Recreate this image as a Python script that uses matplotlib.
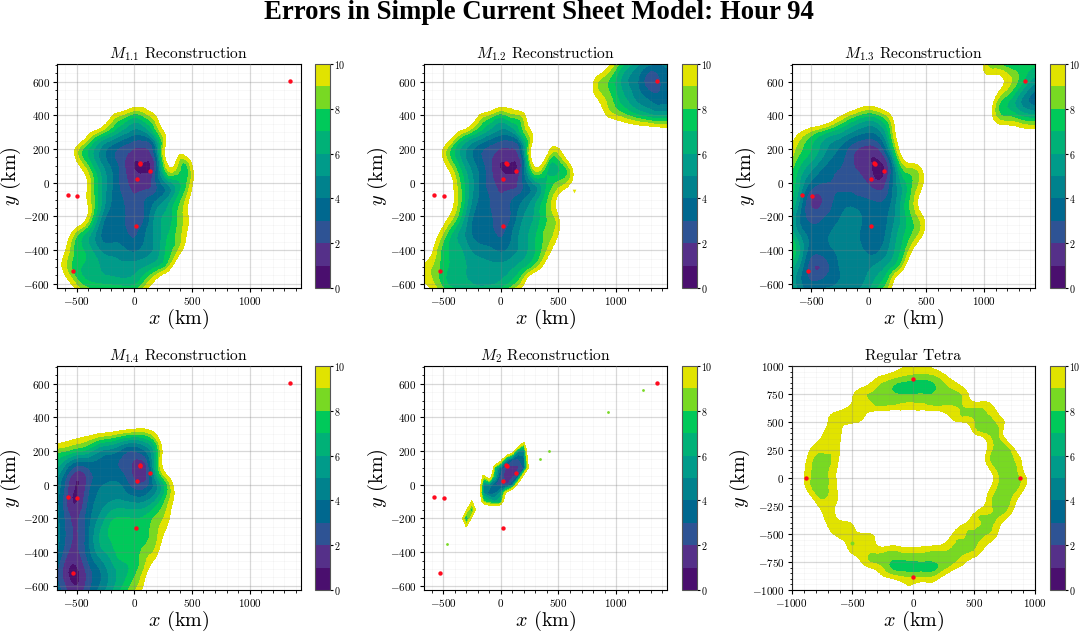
import matplotlib

matplotlib.use("Agg")
import matplotlib.pyplot as plt
import matplotlib.tri as mtri
import numpy as np
from matplotlib.colors import ListedColormap
from matplotlib.ticker import MultipleLocator

plt.rcParams["font.family"] = ["cmr10", "DejaVu Sans"]
plt.rcParams["mathtext.fontset"] = "cm"
plt.rcParams["axes.formatter.use_mathtext"] = True

TITLE = "Errors in Simple Current Sheet Model: Hour 94"
LEVELS = list(range(0, 11))
LAYER_COLORS = ["#4a0f6e", "#553089", "#2e5394", "#00688f", "#00828d",
                "#009b8a", "#00b177", "#00c95a", "#78d923", "#e1e300"]

# spacecraft positions (km)
SC_X = [1350, 50, 46, 135, 20, 15, -575, -495, -530]
SC_Y = [605, 112, 120, 70, 25, -255, -70, -77, -525]
TETRA_X = [0, 0, 880, -880]
TETRA_Y = [880, -880, 0, 0]

# error fields: rows run y = 700 ... -700, columns x = -700, -600, ...; short rows stay above 10
GRID_X = list(range(-700, 1501, 100))
GRID_Y = list(range(700, -701, -100))

M11 = [
    [],
    [],
    [20, 20, 20, 20, 20, 20, 16, 12.5, 12.5, 16],
    [20, 20, 20, 20, 16, 10.4, 8.8, 7.5, 8.5, 10.6, 16],
    [20, 20, 20, 11, 8.8, 7, 5.5, 4.5, 5, 8, 11.5, 16],
    [20, 13, 9.5, 7, 5, 3.5, 2.6, 1.9, 1.9, 5, 12, 11, 17],
    [20, 15, 11, 8, 5.5, 3.8, 2.3, 0.9, 0.8, 3.5, 10.3, 8, 9.8, 14],
    [20, 17, 13, 9.8, 6.5, 4.2, 2.5, 1.5, 1.4, 3.2, 5.5, 7, 9.6, 14],
    [20, 16, 12.5, 9.7, 6.5, 4, 3, 2.2, 3, 4, 5.5, 7.8, 11, 16],
    [20, 16, 13, 9.8, 5.5, 3.5, 3.1, 2.5, 3.2, 5.5, 6.5, 8.5, 11, 16],
    [16, 12, 8.5, 6.5, 4.2, 3.5, 3.4, 2.8, 4, 5.5, 7, 8.7, 11.5, 16],
    [13, 10.2, 7.6, 6.5, 5, 4.5, 4.2, 3.8, 4.5, 5.5, 7.5, 9.5, 13],
    [12, 9.3, 7.3, 6.7, 6, 5.5, 5.3, 5.5, 6, 7, 9, 13],
    [16, 11.5, 8.8, 7.3, 7, 6.8, 6.6, 6.8, 8.7, 11.5, 15],
    [20, 18, 13, 11, 10.5, 10.5, 10.5, 10.5, 12, 16],
]

M12 = [
    [20, 20, 20, 20, 20, 20, 20, 20, 20, 20, 20, 20, 20, 20, 20, 16, 11.5, 8.5, 6.5, 5, 4, 4, 4.5],
    [20, 20, 20, 20, 20, 20, 20, 20, 20, 20, 20, 20, 20, 20, 16, 10.3, 8.3, 6.8, 5, 3.8, 2.2, 3.2, 3.8],
    [20, 20, 20, 20, 20, 20, 16, 12.5, 12.5, 16, 20, 20, 20, 20, 20, 11, 9, 7.3, 5.8, 4.5, 3.7, 3.5, 4],
    [20, 20, 20, 20, 16, 10.4, 8.8, 7.5, 8.5, 9.6, 14, 20, 20, 20, 20, 14, 10.5, 9, 8, 7, 6.2, 6, 6],
    [20, 20, 20, 11, 8.8, 7, 5.5, 4.5, 5, 8, 11, 20, 20, 20, 20, 20, 16, 13, 12.5, 12.2, 12, 11.7, 11.7],
    [20, 13, 10, 7, 5, 3.5, 2.6, 1.9, 1.9, 5, 13, 11.5, 9.8, 14],
    [20, 15, 11, 8, 5.5, 3.8, 2.3, 0.9, 0.8, 3.5, 10.5, 7.5, 7, 9.6, 16],
    [20, 17, 13, 9.6, 6.5, 4.2, 2.5, 1.5, 1.4, 3.2, 5.5, 7, 8.2, 9.7, 16],
    [20, 16, 12.5, 9.9, 6.5, 4, 3, 2.2, 3, 4, 5.5, 7.8, 10.8, 16],
    [20, 16, 11.5, 8.8, 5.5, 3.5, 3.1, 2.5, 3.2, 5, 6.2, 8, 10, 14],
    [16, 12, 9, 6.5, 4.8, 3.5, 3.4, 2.8, 4, 5.5, 6.8, 8.3, 10, 14],
    [13, 10.5, 7.6, 6.6, 5.5, 4.5, 4.2, 3.8, 4.5, 5.5, 7, 9, 12],
    [10, 9, 7.5, 6.6, 6, 5.5, 5.3, 5.3, 5.8, 6.8, 8.5, 11.5],
    [10.5, 9.4, 7.6, 6.5, 6.3, 5.8, 5.8, 6.3, 7.5, 10, 15],
    [12, 11, 10, 9.5, 9, 9, 9.5, 10, 12, 16],
]

M13 = [
    [20, 20, 20, 20, 20, 20, 20, 20, 20, 20, 20, 20, 20, 20, 20, 20, 20, 9.6, 8.5, 7.5, 7.2, 7.2, 7.2],
    [20, 20, 20, 20, 20, 20, 20, 20, 20, 20, 20, 20, 20, 20, 20, 20, 20, 11.5, 11, 9.6, 7.8, 5.8, 5],
    [20, 20, 20, 20, 20, 16, 13, 12.2, 13, 17, 20, 20, 20, 20, 20, 20, 20, 14, 9.8, 7.5, 5.5, 3.8, 3.2],
    [20, 20, 16, 13.5, 11.5, 9.5, 8, 7.2, 8, 10.4, 15, 20, 20, 20, 20, 20, 20, 13, 9, 7.8, 7, 6.2, 6],
    [12.5, 10.2, 8.7, 7.5, 6.5, 5.5, 4.5, 4, 4.8, 8.5, 13, 18, 20, 20, 20, 20, 20, 16, 12.5, 12, 11.5, 11, 11],
    [10.5, 8.3, 7, 5.5, 4.3, 3.2, 2, 1.5, 2.2, 6.5, 12, 14, 18],
    [9, 7, 5.5, 4.2, 3.3, 2.7, 1.8, 1.2, 0.7, 3.5, 8.7, 9.5, 12, 18],
    [8.5, 6, 3.8, 3, 2.9, 2.7, 2.5, 1.8, 1.2, 3.6, 6.5, 8.3, 11, 16],
    [8, 5, 1.9, 2, 3, 3.4, 3.2, 3, 2.8, 4, 6.5, 9.2, 12.5, 18],
    [7, 4, 2.6, 2.8, 3.5, 4.4, 4.4, 3.3, 3.3, 4.5, 6.5, 8.5, 11, 16],
    [7.5, 4.8, 3.5, 3.6, 4.2, 4.6, 4.2, 3.2, 3.4, 5, 6.8, 8.3, 11, 16],
    [9, 6, 3.5, 3.5, 4, 4.5, 4.4, 3.7, 4, 5.5, 7.5, 11, 16],
    [7, 4.8, 2.3, 2.2, 3.5, 4.4, 4.6, 4.8, 5.5, 6.8, 9.5, 14],
    [6.5, 4.3, 3.2, 3.5, 3.9, 4.4, 4.7, 5.5, 7, 9.7, 14],
    [7.5, 5.3, 4.2, 4.5, 5, 5.4, 5.7, 6.5, 8, 11, 16],
]

M14 = [
    [],
    [],
    [],
    [20, 20, 20, 20, 20, 18, 16, 13.5, 13.5, 18],
    [12, 11.6, 11, 10.5, 9.8, 9.3, 8.5, 8, 8.3, 10.5, 16],
    [8.5, 8, 7.2, 6.5, 5, 4.5, 3.5, 3, 4, 7.5, 13, 18],
    [6.5, 4.5, 2.5, 3, 3.5, 3.3, 2.7, 1.6, 1.7, 7.5, 12, 18],
    [5.5, 2.8, 0.9, 2.4, 3.8, 4.2, 3.8, 2.4, 2.5, 5, 8.5, 12.5, 18],
    [5, 2.3, 0.9, 3, 4.4, 5, 5.1, 4.8, 5, 6.5, 9, 12, 18],
    [5, 2.8, 1.8, 3.5, 5.2, 6.7, 7.1, 7, 7.3, 8.4, 9.9, 13, 18],
    [5, 3, 1.9, 3.7, 6, 7.2, 7.5, 7.3, 7.7, 8.9, 11.5, 16],
    [4.8, 2.5, 1.7, 3.5, 5.5, 6.5, 7.6, 7.5, 8.5, 9.8, 13.5, 18],
    [4, 1.5, 0.8, 2.5, 4, 5.5, 6.5, 7.5, 9.4, 12, 16],
    [4, 2, 1, 2.5, 4, 5.5, 7, 8.5, 10.8, 14, 18],
    [5, 3, 2, 3.5, 5, 6.5, 8, 9.5, 12, 16],
]

# M2 only shows a thin streak, so it has its own 50 km grid
M2_X = list(range(-350, 301, 50))
M2_Y = list(range(300, -301, -50))
M2 = [
    [16, 16, 16, 16, 16, 16, 16, 16, 16, 16, 16, 16, 16, 16],
    [16, 16, 16, 16, 16, 16, 16, 16, 16, 16, 16, 9.6, 16, 16],
    [16, 16, 16, 16, 16, 16, 16, 16, 16, 12, 5, 4.5, 16, 16],
    [16, 16, 16, 16, 16, 16, 16, 12, 5, 3, 2.8, 3.5, 14, 16],
    [16, 16, 16, 16, 16, 18, 7, 3.5, 1.6, 1.5, 1.7, 3, 12, 16],
    [16, 16, 16, 16, 9, 13, 6, 2.3, 1.5, 1.5, 3, 12, 16, 16],
    [16, 16, 16, 16, 5, 4.5, 3, 2.5, 2, 3.5, 12, 16, 16, 16],
    [16, 16, 16, 14, 5, 3.5, 3.8, 5.5, 11, 16, 16, 16, 16, 16],
    [16, 16, 9.5, 16, 8, 7, 6, 6.5, 16, 16, 16, 16, 16, 16],
    [16, 10.4, 7, 12, 16, 14, 14, 16, 16, 16, 16, 16, 16, 16],
    [12, 6, 10.6, 16, 16, 16, 16, 16, 16, 16, 16, 16, 16, 16],
    [16, 10.2, 16, 16, 16, 16, 16, 16, 16, 16, 16, 16, 16, 16],
    [16, 16, 16, 16, 16, 16, 16, 16, 16, 16, 16, 16, 16, 16],
]
M2_SPECK_X = [340, 420, 930, 1230, -465]
M2_SPECK_Y = [155, 200, 430, 565, -350]

# regular tetrahedron: rows y = 1000 ... -1000, columns x = -1000 ... 1000
TETRA_GRID = list(range(-1000, 1001, 100))
TETRA = [
    [14, 14, 14, 14, 14, 14, 14, 13, 11.5, 10.3, 9.8, 9.9, 10.8, 12, 14, 14, 14, 14, 14, 14, 14],
    [14, 14, 14, 14, 14, 14, 12.5, 10.2, 9.4, 8.8, 8.5, 8.4, 8.9, 10.2, 12, 14, 14, 14, 14, 14, 14],
    [14, 14, 14, 14, 13, 11, 9.7, 8.9, 8.2, 7.5, 7.4, 7.4, 8.1, 8.9, 9.7, 12, 14, 14, 14, 14, 14],
    [14, 14, 14, 13, 11.5, 10, 9.2, 8.6, 8.4, 8.6, 8.7, 8.6, 8.5, 8.7, 8.9, 10.4, 10.6, 12, 14, 14, 14],
    [14, 14, 13, 10.8, 10, 9.5, 9.7, 10, 10.2, 10.2, 10.3, 10.2, 10, 9.4, 8.9, 8.7, 9, 10.4, 13, 14, 14],
    [14, 14, 12, 10, 9.7, 9.7, 11, 14, 20, 20, 20, 20, 20, 11.2, 10, 9, 8.7, 9.2, 11.5, 14, 14],
    [14, 14, 11, 9.7, 9.8, 13, 20, 20, 20, 20, 20, 20, 20, 20, 14, 10, 8.9, 8.8, 13, 14, 14],
    [14, 12, 9.9, 9.4, 10.1, 16, 20, 20, 20, 20, 20, 20, 20, 20, 20, 14, 10.4, 8.6, 10.1, 14, 14],
    [14, 11, 8.9, 8.9, 10.3, 16, 20, 20, 20, 20, 20, 20, 20, 20, 20, 16, 9.8, 8.4, 8.7, 11, 14],
    [14, 10.4, 8.6, 8.8, 10.8, 16, 20, 20, 20, 20, 20, 20, 20, 20, 20, 20, 10.6, 8.4, 8.3, 10.2, 14],
    [13, 10.2, 8.5, 8.9, 11, 17, 20, 20, 20, 20, 20, 20, 20, 20, 20, 20, 12, 9, 8.3, 9.4, 12],
    [14, 10.8, 8.5, 8.9, 10.8, 16, 20, 20, 20, 20, 20, 20, 20, 20, 20, 20, 11, 8.7, 8.4, 9.8, 13],
    [14, 13, 9.7, 9.2, 10.6, 16, 20, 20, 20, 20, 20, 20, 20, 20, 20, 16, 10, 8.7, 8.9, 11.5, 14],
    [14, 15, 11, 9.7, 11, 14, 20, 20, 20, 20, 20, 20, 20, 20, 14, 10.5, 9.2, 8.7, 9.6, 13, 14],
    [14, 14, 12, 9.8, 9.7, 10.4, 14, 20, 20, 20, 20, 20, 20, 13, 10.6, 9.3, 8.8, 9.4, 12, 14, 14],
    [14, 14, 14, 11, 9.6, 9.5, 9.9, 11, 14, 16, 16, 16, 14, 10.7, 9.1, 8.7, 8.9, 10.3, 14, 14, 14],
    [14, 14, 14, 13, 10.7, 9.6, 9.2, 10, 10.3, 10.5, 10.6, 10.4, 10.1, 9.2, 8.8, 8.8, 10, 12, 14, 14, 14],
    [14, 14, 14, 14, 12, 10.4, 9.2, 8.7, 8.4, 8.4, 8.5, 8.5, 8.6, 8.6, 9, 9.8, 12, 14, 14, 14, 14],
    [14, 14, 14, 14, 14, 13, 10.6, 9.5, 8.1, 7.5, 7.5, 7.5, 7.9, 9.1, 10.6, 13, 14, 14, 14, 14, 14],
    [14, 14, 14, 14, 14, 14, 14, 11.5, 10.3, 9.5, 9.2, 9.4, 9.9, 12, 14, 14, 14, 14, 14, 14, 14],
    [14, 14, 14, 14, 14, 14, 14, 14, 14, 10.8, 10.5, 11, 10.7, 14, 14, 14, 14, 14, 14, 14, 14],
]
TETRA_SPECK_X = [-507]
TETRA_SPECK_Y = [-583]


def pad_rows(rows, n_cols):
    return np.array([list(row) + [20] * (n_cols - len(row)) for row in rows], dtype=float)


def pixel_rect(box):
    left, top, right, bottom = box
    return [left / 1079, 1 - bottom / 633, (right - left) / 1079, (bottom - top) / 633]


def style_axis(ax, title, xlim, ylim, x_steps, y_steps):
    ax.set_title(title, fontsize=11.2, pad=4)
    ax.set_xlim(*xlim)
    ax.set_ylim(*ylim)
    ax.set_xlabel(r"$x$ (km)", fontsize=14.5, labelpad=0)
    ax.set_ylabel(r"$y$ (km)", fontsize=14.5, labelpad=0)
    ax.xaxis.set_major_locator(MultipleLocator(x_steps[0]))
    ax.xaxis.set_minor_locator(MultipleLocator(x_steps[1]))
    ax.yaxis.set_major_locator(MultipleLocator(y_steps[0]))
    ax.yaxis.set_minor_locator(MultipleLocator(y_steps[1]))
    ax.tick_params(which="major", labelsize=8, length=3, width=0.8, pad=2)
    ax.tick_params(which="minor", length=1.8, width=0.6)
    ax.grid(which="major", color="#808080", alpha=0.3, linewidth=0.9)
    ax.grid(which="minor", color="#808080", alpha=0.08, linewidth=0.5)
    ax.set_axisbelow(False)


def draw_panel(fig, rect, cbar_rect, grid, field, title, xlim, ylim, points,
               x_steps=(500, 100), y_steps=(200, 50), smooth=True):
    ax = fig.add_axes(pixel_rect(rect))
    cmap = ListedColormap(LAYER_COLORS)
    if smooth:
        # rounder contours, the way the tricontour_smooth demo refines a coarse grid
        xx, yy = np.meshgrid(grid[0], grid[1])
        triang = mtri.Triangulation(xx.ravel(), yy.ravel())
        fine_tri, fine_z = mtri.UniformTriRefiner(triang).refine_field(np.minimum(field, 14).ravel(), subdiv=2)
        filled = ax.tricontourf(fine_tri, fine_z, levels=LEVELS, cmap=cmap, vmin=0, vmax=10)
    else:
        filled = ax.contourf(grid[0], grid[1], field, levels=LEVELS, cmap=cmap, vmin=0, vmax=10)
    ax.scatter(points[0], points[1], s=10, color="#ff0a1e", zorder=5, linewidths=0)
    style_axis(ax, title, xlim, ylim, x_steps, y_steps)
    cax = fig.add_axes(pixel_rect(cbar_rect))
    cbar = fig.colorbar(filled, cax=cax, ticks=[0, 2, 4, 6, 8, 10])
    cbar.ax.tick_params(labelsize=7.2, length=2.2, width=0.8, pad=0.5)
    cbar.outline.set_edgecolor("#555555")
    return ax


def main():
    fig = plt.figure(figsize=(10.79, 6.33), dpi=100)
    fig.text(0.4995, 1 - 19 / 633, TITLE, ha="center", va="baseline", fontsize=19.3,
             fontweight="bold", family="Liberation Serif")

    columns = [(57, 300.5, 315, 330), (423.5, 667, 682, 697), (791.5, 1035, 1050, 1065)]
    rows = [(64, 288), (366, 590)]
    grid_full = (GRID_X, GRID_Y)
    xlim = (-670, 1441)
    ylim = (-625, 705)
    sc_points = (SC_X, SC_Y)
    n_cols = len(GRID_X)

    def boxes(r, c):
        top, bottom = rows[r]
        left, right, cleft, cright = columns[c]
        return (left, top, right, bottom), (cleft, top, cright, bottom)

    draw_panel(fig, *boxes(0, 0), grid_full, pad_rows(M11, n_cols), r"$M_{1.1}$ Reconstruction", xlim, ylim, sc_points)
    ax12 = draw_panel(fig, *boxes(0, 1), grid_full, pad_rows(M12, n_cols), r"$M_{1.2}$ Reconstruction", xlim, ylim, sc_points)
    ax12.scatter([632], [-50], s=7, marker="v", color=LAYER_COLORS[9], linewidths=0, zorder=3)
    draw_panel(fig, *boxes(0, 2), grid_full, pad_rows(M13, n_cols), r"$M_{1.3}$ Reconstruction", xlim, ylim, sc_points)
    draw_panel(fig, *boxes(1, 0), grid_full, pad_rows(M14, n_cols), r"$M_{1.4}$ Reconstruction", xlim, ylim, sc_points)
    ax2 = draw_panel(fig, *boxes(1, 1), (M2_X, M2_Y), np.array(M2, dtype=float), r"$M_2$ Reconstruction", xlim, ylim,
                     sc_points, smooth=False)
    ax2.scatter(M2_SPECK_X, M2_SPECK_Y, s=4, color=LAYER_COLORS[8], linewidths=0, zorder=3)
    ax_tetra = draw_panel(fig, *boxes(1, 2), (TETRA_GRID, TETRA_GRID[::-1]), np.array(TETRA, dtype=float), "Regular Tetra",
                          (-1000, 1000), (-1000, 1000), (TETRA_X, TETRA_Y), y_steps=(250, 50))
    ax_tetra.scatter(TETRA_SPECK_X, TETRA_SPECK_Y, s=8, color=LAYER_COLORS[8], linewidths=0, zorder=3)

    fig.savefig("out.png", dpi=100)
    plt.close(fig)


if __name__ == "__main__":
    main()
